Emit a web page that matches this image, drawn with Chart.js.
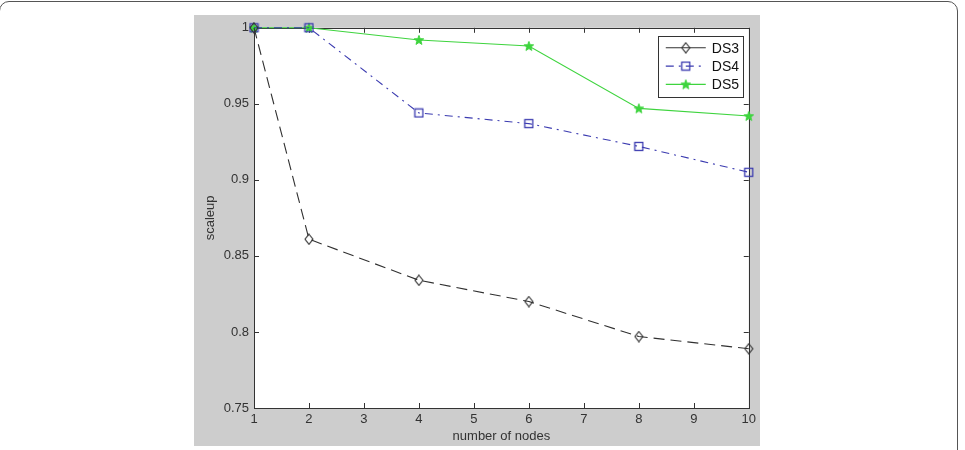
<!DOCTYPE html>
<html>
<head>
<meta charset="utf-8">
<script src="https://cdn.jsdelivr.net/npm/chart.js@4/dist/chart.umd.min.js"></script>
<style>
  html, body { margin: 0; padding: 0; background: #fff; width: 965px; height: 450px; overflow: hidden; }
  #moldura { position: absolute; left: -1px; top: 1px; width: 957px; height: 470px; border: 1.5px solid #555; border-radius: 10px; }
  #fundo { position: absolute; left: 194px; top: 15px; width: 566px; height: 431px; background: #cdcdcd; }
  #grafico { display: block; }
</style>
</head>
<body>
<div id="moldura"></div>
<div id="fundo"><canvas id="grafico" width="566" height="431"></canvas></div>
<script>
const nos = [1, 2, 4, 6, 8, 10];
const ds3 = [1, 0.861, 0.834, 0.820, 0.797, 0.789];
const ds4 = [1, 1, 0.944, 0.937, 0.922, 0.905];
const ds5 = [1, 1, 0.992, 0.988, 0.947, 0.942];
const ticksX = [1, 2, 3, 4, 5, 6, 7, 8, 9, 10];
const ticksY = [0.75, 0.8, 0.85, 0.9, 0.95, 1];

const fonte = '"Liberation Sans", Arial, sans-serif';
const corTexto = '#333';

function marcador(tipo, cor) {
    const c = document.createElement('canvas');
    const ctx = c.getContext('2d');
    if (tipo === 'losango') {
        c.width = 10; c.height = 12;
        ctx.strokeStyle = cor; ctx.lineWidth = 1.1;
        ctx.beginPath();
        ctx.moveTo(5, 1); ctx.lineTo(9, 6); ctx.lineTo(5, 11); ctx.lineTo(1, 6);
        ctx.closePath();
        ctx.stroke();
    } else if (tipo === 'quadrado') {
        c.width = 11; c.height = 11;
        ctx.strokeStyle = cor; ctx.lineWidth = 1.3;
        ctx.strokeRect(1.5, 1.5, 8, 8);
    } else {
        c.width = 12; c.height = 12;
        ctx.fillStyle = cor; ctx.strokeStyle = cor; ctx.lineWidth = 1;
        ctx.beginPath();
        for (let i = 0; i < 10; i++) {
            const r = i % 2 === 0 ? 5 : 2.1;
            const a = -Math.PI / 2 + i * Math.PI / 5;
            const px = 6 + r * Math.cos(a), py = 6.4 + r * Math.sin(a);
            if (i === 0) ctx.moveTo(px, py); else ctx.lineTo(px, py);
        }
        ctx.closePath();
        ctx.fill();
        ctx.stroke();
    }
    return c;
}

const series = [
    { nome: 'DS3', valores: ds3, cor: '#303030', tracejado: [11, 6], ponto: marcador('losango', '#303030') },
    { nome: 'DS4', valores: ds4, cor: '#3b3bb0', tracejado: [8, 5, 2, 5], ponto: marcador('quadrado', '#3b3bb0') },
    { nome: 'DS5', valores: ds5, cor: '#3ed43e', tracejado: [], ponto: marcador('estrela', '#3ed43e') }
];

const pluginMatlab = {
    id: 'matlab',
    beforeDraw(chart) {
        const { ctx, chartArea: a } = chart;
        ctx.save();
        ctx.fillStyle = '#fff';
        ctx.fillRect(a.left, a.top, a.right - a.left, a.bottom - a.top);
        ctx.restore();
    },
    beforeDatasetsDraw(chart) {
        const { ctx, chartArea: a, scales } = chart;
        ctx.save();
        ctx.strokeStyle = '#333';
        ctx.lineWidth = 1;
        ctx.strokeRect(Math.round(a.left) + 0.5, Math.round(a.top) + 0.5, Math.round(a.right - a.left), Math.round(a.bottom - a.top));
        ctx.beginPath();
        ticksX.forEach(v => {
            const px = Math.round(scales.x.getPixelForValue(v)) + 0.5;
            ctx.moveTo(px, a.bottom); ctx.lineTo(px, a.bottom - 5);
            ctx.moveTo(px, a.top); ctx.lineTo(px, a.top + 5);
        });
        ticksY.forEach(v => {
            const py = Math.round(scales.y.getPixelForValue(v)) + 0.5;
            ctx.moveTo(a.left, py); ctx.lineTo(a.left + 5, py);
            ctx.moveTo(a.right, py); ctx.lineTo(a.right - 5, py);
        });
        ctx.stroke();
        ctx.restore();
    },
    afterDraw(chart) {
        const { ctx, chartArea: a } = chart;
        const larg = 85, alt = 61;
        const x0 = a.right - 6 - larg, y0 = a.top + 8;
        ctx.save();
        ctx.fillStyle = '#fff';
        ctx.fillRect(x0, y0, larg, alt);
        ctx.strokeStyle = '#333';
        ctx.lineWidth = 1;
        ctx.strokeRect(Math.round(x0) + 0.5, Math.round(y0) + 0.5, larg, alt);
        series.forEach((s, i) => {
            const y = y0 + 12 + i * 18.3;
            ctx.strokeStyle = s.cor;
            ctx.lineWidth = 1.1;
            ctx.setLineDash(s.tracejado.length > 2 ? s.tracejado : []);
            ctx.beginPath();
            ctx.moveTo(x0 + 8, y); ctx.lineTo(x0 + 48, y);
            ctx.stroke();
            ctx.setLineDash([]);
            ctx.drawImage(s.ponto, x0 + 28 - s.ponto.width / 2, y - s.ponto.height / 2);
            ctx.fillStyle = '#111';
            ctx.font = '14px ' + fonte;
            ctx.textBaseline = 'middle';
            ctx.textAlign = 'left';
            ctx.fillText(s.nome, x0 + 54, y + 1);
        });
        ctx.restore();
    }
};

new Chart(document.getElementById('grafico'), {
    type: 'line',
    data: {
        datasets: series.map(s => ({
            label: s.nome,
            data: nos.map((n, i) => ({ x: n, y: s.valores[i] })),
            borderColor: s.cor,
            borderWidth: 1.1,
            borderDash: s.tracejado,
            pointStyle: s.ponto,
            pointRadius: 5,
            pointHoverRadius: 5,
            fill: false,
            tension: 0,
            clip: false
        }))
    },
    options: {
        responsive: false,
        animation: false,
        events: [],
        layout: { padding: { left: 0, top: 12, right: 8, bottom: 0 } },
        plugins: { legend: { display: false }, tooltip: { enabled: false } },
        scales: {
            x: {
                type: 'linear',
                min: 1, max: 10,
                afterFit: s => { s.height = 38; },
                afterBuildTicks: s => { s.ticks = ticksX.map(v => ({ value: v })); },
                grid: { display: false, drawTicks: false },
                border: { display: false },
                ticks: { color: corTexto, font: { family: fonte, size: 13 }, padding: 4, maxRotation: 0, autoSkip: false },
                title: { display: true, text: 'number of nodes', color: corTexto, font: { family: fonte, size: 13 }, padding: { top: 0, bottom: 2 } }
            },
            y: {
                type: 'linear',
                min: 0.75, max: 1,
                afterFit: s => { s.width = 60; },
                afterBuildTicks: s => { s.ticks = ticksY.map(v => ({ value: v })); },
                grid: { display: false, drawTicks: false },
                border: { display: false },
                ticks: { color: corTexto, font: { family: fonte, size: 13 }, padding: 5, callback: v => String(+v.toFixed(2)) },
                title: { display: true, text: 'scaleup', color: corTexto, font: { family: fonte, size: 13 }, padding: { top: 9, bottom: 0 } }
            }
        }
    },
    plugins: [pluginMatlab]
});
</script>
</body>
</html>
